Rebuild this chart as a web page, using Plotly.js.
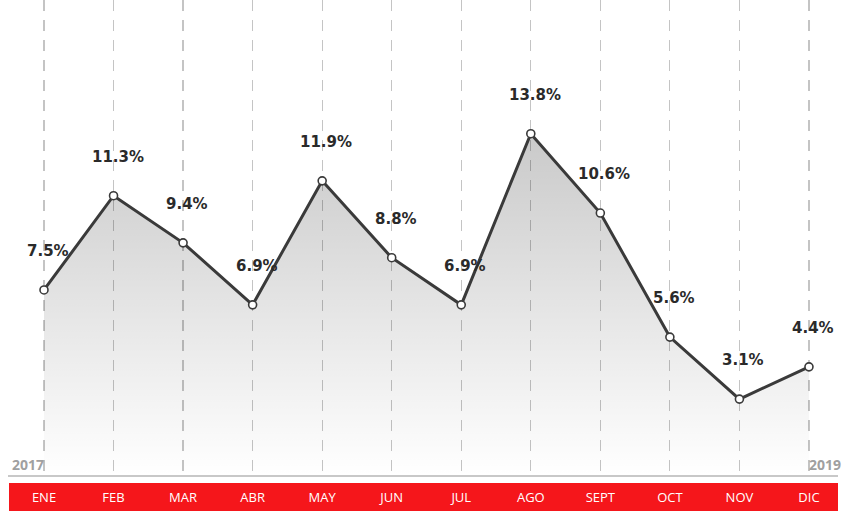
<!DOCTYPE html>
<html>
<head>
<meta charset="utf-8">
<script src="https://cdn.plot.ly/plotly-3.0.1.min.js"></script>
<style>html,body{margin:0;padding:0;background:#fff;}#chart{width:842px;height:513px;}</style>
</head>
<body>
<div id="chart"></div>
<script>
var months = ["ENE","FEB","MAR","ABR","MAY","JUN","JUL","AGO","SEPT","OCT","NOV","DIC"];
var values = [7.5, 11.3, 9.4, 6.9, 11.9, 8.8, 6.9, 13.8, 10.6, 5.6, 3.1, 4.4];
var startYear = "2017";
var endYear = "2019";

var idx = months.map(function(_, i){ return i; });
var labels = values.map(function(v){ return v.toFixed(1) + "%"; });

var trace = {
  type: "scatter",
  mode: "lines+markers",
  x: idx,
  y: values,
  fill: "tozeroy",
  fillgradient: {
    type: "vertical",
    start: 0,
    stop: Math.max.apply(null, values),
    colorscale: [[0, "rgba(0,0,0,0)"], [1, "rgba(0,0,0,0.21)"]]
  },
  line: {color: "#3a3a3a", width: 3},
  marker: {size: 8, color: "#ffffff", line: {color: "#3a3a3a", width: 1.6}},
  cliponaxis: false,
  hoverinfo: "skip"
};

var annotations = values.map(function(v, i){
  return {
    x: i, y: v, xref: "x", yref: "y",
    text: labels[i], showarrow: false,
    xshift: 4, yshift: 39,
    font: {family: "DejaVu Sans", size: 15, color: "#2a2a2a", weight: "bold"}
  };
});
annotations.push({
  xref: "paper", yref: "paper", x: 10/842, y: 0.025, xanchor: "left", yanchor: "middle",
  text: startYear, showarrow: false,
  font: {family: "Open Sans", size: 14, color: "#a0a0a0", weight: "bold"}
});
annotations.push({
  xref: "paper", yref: "paper", x: 1, y: 0.025, xanchor: "right", yanchor: "middle", xshift: 1,
  text: endYear, showarrow: false,
  font: {family: "Open Sans", size: 14, color: "#a0a0a0", weight: "bold"}
});

var layout = {
  width: 842,
  height: 513,
  margin: {l: 0, r: 0, t: 0, b: 37, pad: 0},
  paper_bgcolor: "#ffffff",
  plot_bgcolor: "#ffffff",
  showlegend: false,
  xaxis: {
    range: [-0.6327, 11.475],
    tickvals: idx,
    ticktext: months,
    ticks: "",
    showline: false,
    zeroline: false,
    showgrid: true,
    gridcolor: "#c4c4c4",
    gridwidth: 1.2,
    griddash: "11px,9px",
    tickfont: {family: "Open Sans", size: 13, color: "#ffffff"},
    ticklabelstandoff: 12,
    fixedrange: true
  },
  yaxis: {
    range: [0, 19.19],
    showgrid: false,
    zeroline: false,
    showticklabels: false,
    ticks: "",
    showline: false,
    fixedrange: true
  },
  shapes: [
    {type: "rect", xref: "paper", yref: "paper", x0: 9/842, x1: 838/842, y0: -0.0735, y1: -0.0147,
     fillcolor: "#f5161b", line: {width: 0}, layer: "below"},
    {type: "line", xref: "paper", yref: "paper", x0: 8/842, x1: 838/842, y0: 0, y1: 0,
     line: {color: "#c8c8c8", width: 2}, layer: "below"}
  ],
  annotations: annotations
};

Plotly.newPlot("chart", [trace], layout, {staticPlot: true, displayModeBar: false});
</script>
</body>
</html>
